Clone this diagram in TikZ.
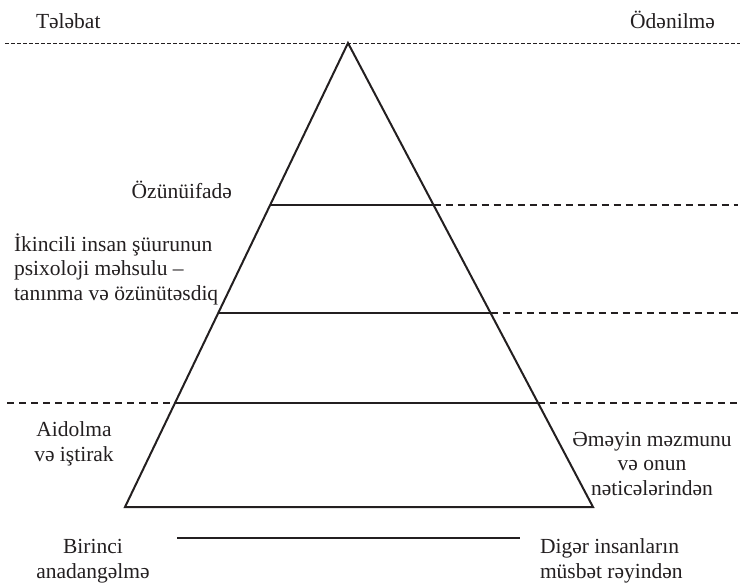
\documentclass[tikz,border=0pt]{standalone}
\usepackage{fontspec}
\setmainfont{Liberation Serif}
\usetikzlibrary{calc}
\definecolor{ink}{HTML}{231F20}
\begin{document}
\begin{tikzpicture}[x=1pt,y=-1pt,
  every node/.style={inner sep=0pt,outer sep=0pt,text=ink,font=\fontsize{21.5}{24.5}\selectfont},
  solidline/.style={draw=ink,line width=2pt},
  levelgap/.style={draw=ink,line width=2pt,dash pattern=on 7pt off 5pt},
  topline/.style={draw=ink,line width=1pt,dash pattern=on 3.5pt off 2.5pt},
  lbl/.style={anchor=base,align=center}]
\useasboundingbox (0,0) rectangle (740,584);

% pyramid corners
\coordinate (apex) at (348,43);
\coordinate (bl) at (125,507);
\coordinate (br) at (593,507);

% top reference line and column headings
\coordinate (topL) at (5,43);
\coordinate (topR) at (740,43);
\draw[topline] (topL) -- (topR);
\node[anchor=base west] (need) at (36,28) {Tələbat};
\node[anchor=base east] (pay) at (715,28) {Ödənilmə};

% pyramid
\draw[solidline,line join=miter] (apex) -- (bl) -- (br) -- cycle;

% level boundaries on the sides
\coordinate (l1) at ($(apex)!0.349!(bl)$);
\coordinate (r1) at ($(apex)!0.349!(br)$);
\coordinate (l2) at ($(apex)!0.582!(bl)$);
\coordinate (r2) at ($(apex)!0.582!(br)$);
\coordinate (l3) at ($(apex)!0.776!(bl)$);
\coordinate (r3) at ($(apex)!0.776!(br)$);
\coordinate (e1) at (738,0 |- l1);
\coordinate (e2) at (738,0 |- l2);
\coordinate (e3) at (738,0 |- l3);
\coordinate (s3) at (7,0 |- l3);

\draw[solidline] (l1) -- (r1);
\draw[levelgap] (r1) -- (e1);
\draw[solidline] (l2) -- (r2);
\draw[levelgap] (r2) -- (e2);
\draw[levelgap] (s3) -- (l3);
\draw[solidline] (l3) -- (r3);
\draw[levelgap] (r3) -- (e3);

% base line below the pyramid
\coordinate (bL) at (177,538);
\coordinate (bR) at (520,538);
\draw[solidline] (bL) -- (bR);

% labels (base anchors sit on the last line of each block)
\node[anchor=base east] (self) at (232,198) {Özünüifadə};
\node[anchor=base west,align=left] (second) at (14,300)
  {İkincili insan şüurunun\\psixoloji məhsulu –\\tanınma və özünütəsdiq};
\node[lbl] (belong) at (74,461) {Aidolma\\və iştirak};
\node[lbl] (work) at (652,495) {Əməyin məzmunu\\və onun\\nəticələrindən};
\node[lbl] (first) at (93,578) {Birinci\\anadangəlmə};
\node[anchor=base west,align=left] (others) at (540,578) {Digər insanların\\müsbət rəyindən};
\end{tikzpicture}
\end{document}
